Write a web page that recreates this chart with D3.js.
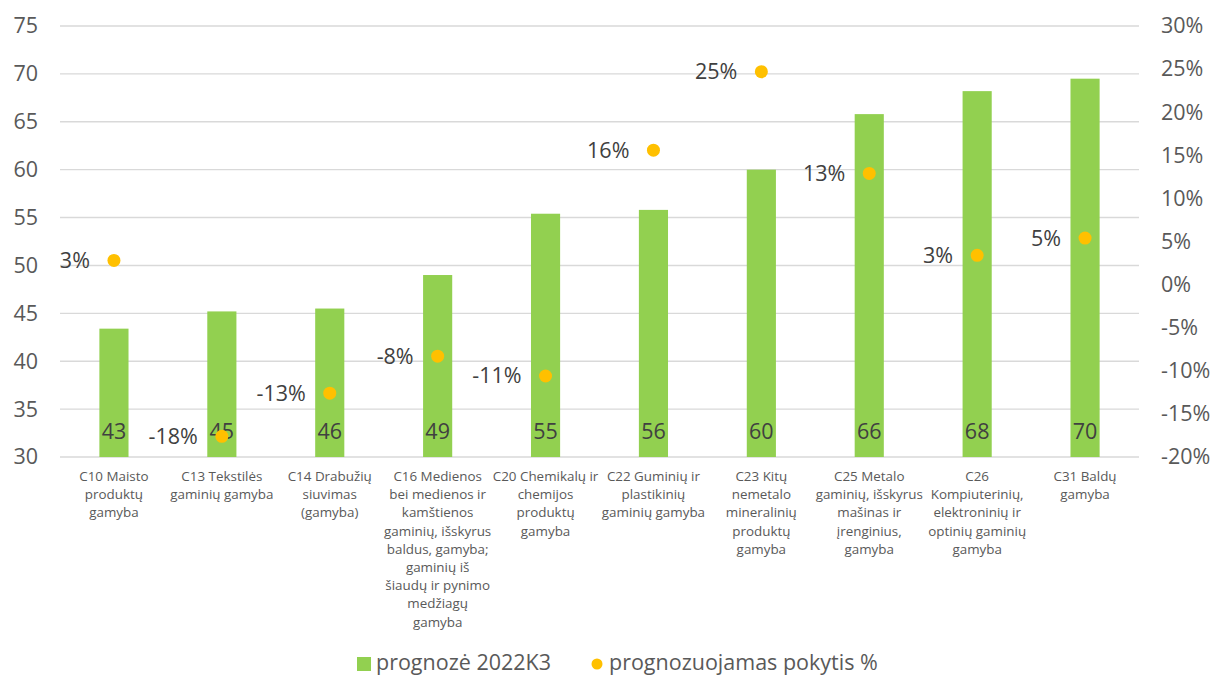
<!DOCTYPE html>
<html>
<head>
<meta charset="utf-8">
<script src="https://cdn.jsdelivr.net/npm/d3@7"></script>
<style>
  html, body { margin: 0; padding: 0; background: #fff; }
  svg { display: block; font-family: "Open Sans", sans-serif; }
</style>
</head>
<body>
<svg id="chart" width="1210" height="675"></svg>
<script>
const categories = [
  "C10 Maisto\nproduktų\ngamyba",
  "C13 Tekstilės\ngaminių gamyba",
  "C14 Drabužių\nsiuvimas\n(gamyba)",
  "C16 Medienos\nbei medienos ir\nkamštienos\ngaminių, išskyrus\nbaldus, gamyba;\ngaminių iš\nšiaudų ir pynimo\nmedžiagų\ngamyba",
  "C20 Chemikalų ir\nchemijos\nproduktų\ngamyba",
  "C22 Guminių ir\nplastikinių\ngaminių gamyba",
  "C23 Kitų\nnemetalo\nmineralinių\nproduktų\ngamyba",
  "C25 Metalo\ngaminių, išskyrus\nmašinas ir\nįrenginius,\ngamyba",
  "C26\nKompiuterinių,\nelektroninių ir\noptinių gaminių\ngamyba",
  "C31 Baldų\ngamyba"
];
const forecast = [43.4, 45.2, 45.5, 49.0, 55.4, 55.8, 60.0, 65.8, 68.2, 69.5];
const change = [2.8, -17.6, -12.6, -8.3, -10.6, 15.6, 24.7, 12.9, 3.4, 5.4];
const leftTicks = [30, 35, 40, 45, 50, 55, 60, 65, 70, 75];
const rightTicks = [-20, -15, -10, -5, 0, 5, 10, 15, 20, 25, 30];
const seriesNames = ["prognozė 2022K3", "prognozuojamas pokytis %"];

const svg = d3.select("#chart");
const pLeft = 60, pRight = 1139, pTop = 26, pBottom = 457;
const barColor = "#92D050", dotColor = "#FFC000";
const bigFont = 21.5;

const x = d3.scaleBand().domain(d3.range(categories.length)).range([pLeft, pRight])
  .paddingInner(0.73).paddingOuter(0.365);
const yL = d3.scaleLinear().domain([30, 75]).range([pBottom, pTop]);
const yR = d3.scaleLinear().domain([-20, 30]).range([pBottom, pTop]);

// gridlines
svg.append("g").selectAll("line").data(leftTicks).join("line")
  .attr("x1", pLeft).attr("x2", pRight)
  .attr("y1", d => yL(d)).attr("y2", d => yL(d))
  .attr("stroke", "#d9d9d9").attr("stroke-width", 1.4);

// left axis labels
const axL = d3.axisLeft(yL).tickValues(leftTicks).tickSize(0).tickPadding(0);
const gL = svg.append("g").attr("transform", `translate(38,0)`).call(axL);
gL.select(".domain").remove();
gL.selectAll("text").attr("font-size", bigFont).attr("fill", "#595959")
  .attr("font-family", "Open Sans, sans-serif");

// right axis labels
const axR = d3.axisRight(yR).tickValues(rightTicks).tickSize(0).tickPadding(0)
  .tickFormat(d => d + "%");
const gR = svg.append("g").attr("transform", `translate(1161,0)`).call(axR);
gR.select(".domain").remove();
gR.selectAll("text").attr("font-size", bigFont).attr("fill", "#595959")
  .attr("font-family", "Open Sans, sans-serif");

// bars
svg.append("g").selectAll("rect").data(forecast).join("rect")
  .attr("x", (d, i) => x(i)).attr("width", x.bandwidth())
  .attr("y", d => yL(d)).attr("height", d => yL(30) - yL(d))
  .attr("fill", barColor);

// bar labels
svg.append("g").selectAll("text").data(forecast).join("text")
  .attr("x", (d, i) => x(i) + x.bandwidth() / 2)
  .attr("y", pBottom - 18.5)
  .attr("text-anchor", "middle")
  .attr("font-size", bigFont).attr("fill", "#404040")
  .text(d => Math.round(d));

// dots
svg.append("g").selectAll("circle").data(change).join("circle")
  .attr("cx", (d, i) => x(i) + x.bandwidth() / 2)
  .attr("cy", d => yR(d))
  .attr("r", 6.5)
  .attr("fill", dotColor);

// dot labels
svg.append("g").selectAll("text").data(change).join("text")
  .attr("x", (d, i) => x(i) + x.bandwidth() / 2 - 24)
  .attr("y", d => yR(d) + 7.5)
  .attr("text-anchor", "end")
  .attr("font-size", bigFont).attr("fill", "#404040")
  .text(d => Math.round(d) + "%");

// category labels
const cat = svg.append("g").selectAll("text").data(categories).join("text")
  .attr("x", (d, i) => x(i) + x.bandwidth() / 2)
  .attr("y", 481)
  .attr("text-anchor", "middle")
  .attr("font-size", 13.4).attr("fill", "#595959");
cat.each(function(d, i) {
  const t = d3.select(this);
  const cx = x(i) + x.bandwidth() / 2;
  d.split("\n").forEach((line, k) => {
    t.append("tspan").attr("x", cx).attr("dy", k === 0 ? 0 : 18.2).text(line);
  });
});

// legend
const lg = svg.append("g");
lg.append("rect").attr("x", 357).attr("y", 657).attr("width", 14).attr("height", 14).attr("fill", barColor);
lg.append("text").attr("x", 376).attr("y", 670).attr("font-size", bigFont).attr("fill", "#595959").text(seriesNames[0]);
lg.append("circle").attr("cx", 597).attr("cy", 664).attr("r", 5.5).attr("fill", dotColor);
lg.append("text").attr("x", 609).attr("y", 670).attr("font-size", bigFont).attr("fill", "#595959").text(seriesNames[1]);
</script>
</body>
</html>
